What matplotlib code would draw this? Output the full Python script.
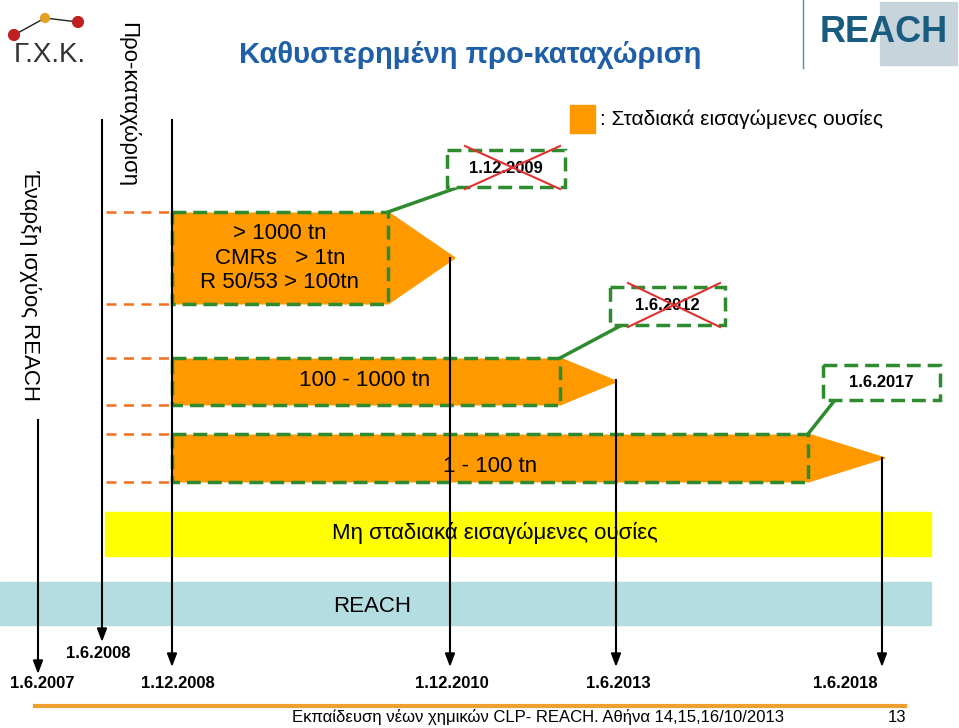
import matplotlib
matplotlib.use("Agg")
import matplotlib.pyplot as plt
from matplotlib.patches import Rectangle, Polygon

# ---- data ----
title = "Καθυστερημένη προ-καταχώριση"
band_labels = ["> 1000 tn\nCMRs   > 1tn\nR 50/53 > 100tn", "100 - 1000 tn", "1 - 100 tn"]
band_end_dates = ["1.12.2010", "1.6.2013", "1.6.2018"]
original_dates = ["1.12.2009", "1.6.2012", "1.6.2017"]
crossed = [True, True, False]
timeline_dates = ["1.6.2007", "1.6.2008", "1.12.2008", "1.12.2010", "1.6.2013", "1.6.2018"]
legend_label = ": Σταδιακά εισαγώμενες ουσίες"
non_phase_label = "Μη σταδιακά εισαγώμενες ουσίες"
reach_label = "REACH"
vertical_labels = ["Έναρξη ισχύος REACH", "Προ-καταχώριση"]
footer = "Εκπαίδευση νέων χημικών CLP- REACH. Αθήνα 14,15,16/10/2013"
page = "13"

# ---- layout (pixel space) ----
W, H = 959, 728
fig = plt.figure(figsize=(W/100, H/100), dpi=100)
ax = fig.add_axes([0, 0, 1, 1])
ax.set_xlim(0, W); ax.set_ylim(H, 0); ax.axis("off")
FN = "Liberation Sans"
ORANGE = "#FF9900"; GREEN = "#2E8B2E"

# vertical timeline arrows
tl_x = [38, 102, 172, 450, 616, 882]
tl_top = [420, 120, 120, 258, 380, 458]
tl_bot = [672, 640, 665, 665, 665, 665]
lab_x = [42, 98, 178, 452, 618, 845]
lab_y = [684, 654, 684, 684, 684, 684]
for x, t, b, lx, ly, d in zip(tl_x, tl_top, tl_bot, lab_x, lab_y, timeline_dates):
    ax.plot([x, x], [t, b - 8], color="black", lw=1.5, zorder=4)
    ax.add_patch(Polygon([(x - 4.5, b - 12), (x + 4.5, b - 12), (x, b)], color="black", zorder=4))
    ax.text(lx, ly, d, ha="center", va="center", fontsize=12, fontweight="bold", family=FN)

# bands
ax.add_patch(Rectangle((105, 512), 826, 44, color="#FFFF00", zorder=1))
ax.text(495, 533, non_phase_label, ha="center", va="center", fontsize=16, family=FN, zorder=5)
ax.add_patch(Rectangle((0, 582), 931, 43, color="#B3DDE0", zorder=1))
ax.text(372, 606, reach_label, ha="center", va="center", fontsize=16, family=FN, zorder=5)

boxes = [(172, 212, 388, 304, 455), (172, 358, 560, 405, 617), (172, 434, 808, 482, 885)]
text_pos = [(280, 258), (365, 381), (490, 467)]
date_boxes = [(447, 150, 565, 187), (610, 287, 725, 325), (823, 365, 940, 400)]
for (x0, y0, x1, y1, tip), (tx, ty), lab, (dx0, dy0, dx1, dy1), od, cr in zip(
        boxes, text_pos, band_labels, date_boxes, original_dates, crossed):
    yc = (y0 + y1) / 2
    ax.add_patch(Polygon([(x1, y0), (tip, yc), (x1, y1)], color=ORANGE, zorder=2))
    ax.add_patch(Rectangle((x0, y0), x1 - x0, y1 - y0, facecolor=ORANGE,
                           edgecolor=GREEN, lw=2.5, ls=(0, (4, 2)), zorder=3))
    for yy in (y0, y1):
        ax.plot([106, x0], [yy, yy], color="#F07020", lw=1.8, ls=(0, (4, 3)), zorder=2)
    ax.text(tx, ty, lab, ha="center", va="center", fontsize=16, family=FN,
            linespacing=1.2, zorder=5)
    ax.add_patch(Rectangle((dx0, dy0), dx1 - dx0, dy1 - dy0, facecolor="white",
                           edgecolor=GREEN, lw=2.5, ls=(0, (4, 2)), zorder=3))
    ax.text((dx0 + dx1) / 2, (dy0 + dy1) / 2, od, ha="center", va="center",
            fontsize=12, fontweight="bold", family=FN, zorder=5)
    if cr:
        ax.plot([dx0 + 18, dx1 - 5], [dy0 - 4, dy1 + 2], color="#E03030", lw=1.5, zorder=6)
        ax.plot([dx0 + 18, dx1 - 5], [dy1 + 2, dy0 - 4], color="#E03030", lw=1.5, zorder=6)
    ax.plot([x1, dx0 + 12], [y0, dy1], color=GREEN, lw=2.5, zorder=2)

# legend
ax.add_patch(Rectangle((570, 105), 25, 28, color=ORANGE))
ax.text(600, 119, legend_label, ha="left", va="center", fontsize=15, family=FN)

# title
ax.text(470, 55, title, ha="center", va="center", fontsize=21, fontweight="bold",
        color="#1F5FA8", family=FN)

# vertical labels
ax.text(30, 285, vertical_labels[0], rotation=-90, ha="center", va="center", fontsize=16, family=FN)
ax.text(128, 105, vertical_labels[1], rotation=-90, ha="center", va="center", fontsize=16, family=FN)

# logos
ax.text(50, 55, "Γ.Χ.Κ.", ha="center", va="center", fontsize=20, color="#333333", family=FN)
ax.plot([14, 45, 78], [35, 18, 22], color="#222222", lw=1)
ax.scatter([14, 45, 78], [35, 18, 22], s=[60, 40, 60], color=["#C02020", "#E8A020", "#C02020"], zorder=5)
ax.add_patch(Rectangle((880, 2), 77, 63, color="#C8D4DC"))
ax.plot([803, 803], [0, 68], color="#5588AA", lw=1)
ax.text(884, 33, "REACH", ha="center", va="center", fontsize=26, fontweight="bold",
        color="#1A5C80", family=FN)

# footer
ax.plot([35, 905], [706, 706], color="#F0A030", lw=3)
ax.text(538, 717, footer, ha="center", va="center", fontsize=12, family=FN)
ax.text(897, 718, page, ha="center", va="center", fontsize=12, family=FN)

fig.savefig("out.png", dpi=100)
